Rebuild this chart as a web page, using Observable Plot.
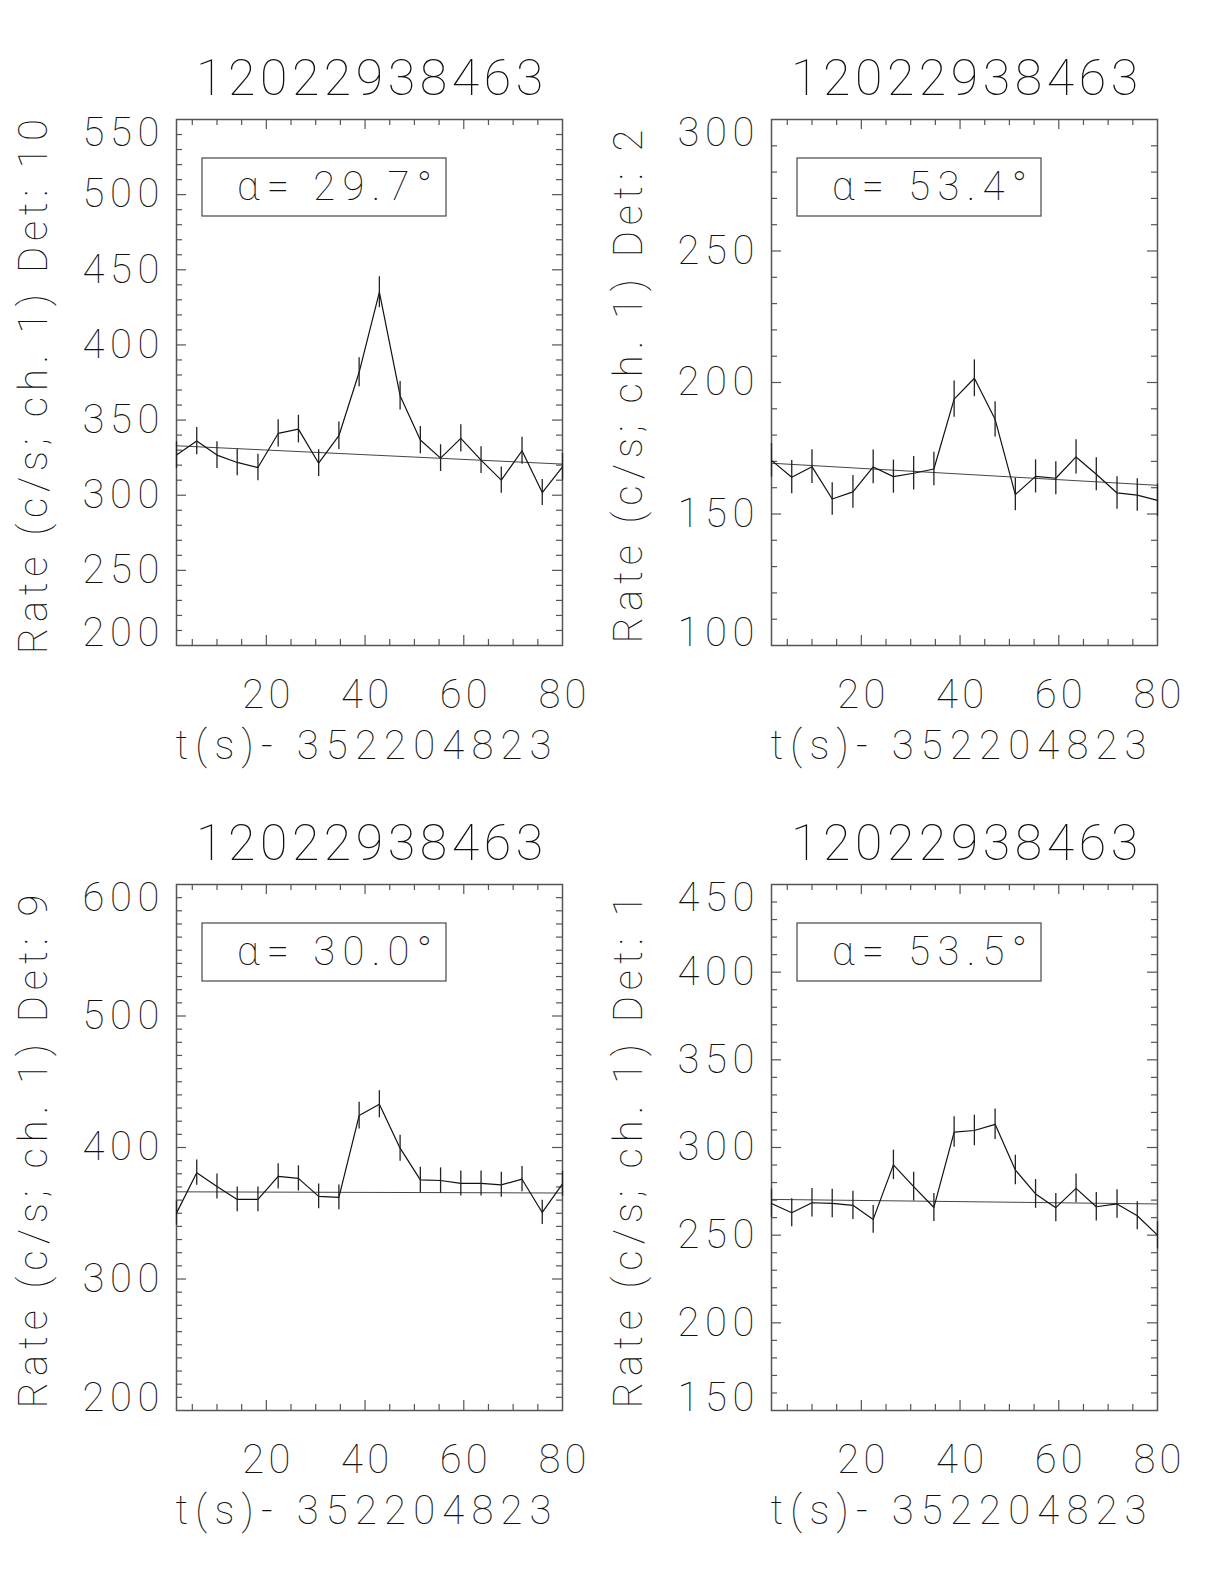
<!DOCTYPE html>
<html><head><meta charset="utf-8">
<script src="https://cdn.jsdelivr.net/npm/d3@7"></script>
<script src="https://cdn.jsdelivr.net/npm/@observablehq/plot@0.6"></script>
<style>
body{margin:0;background:#fff;}
#wrap{position:relative;width:1224px;height:1584px;background:#fff;overflow:hidden;}
.panel{position:absolute;}
</style></head><body><div id="wrap"></div>
<script>
// ---- data ----
const titleText = "12022938463";
const xLabel = "t(s)- 352204823";
const time = [1.8, 5.9, 10.0, 14.1, 18.3, 22.4, 26.5, 30.6, 34.7, 38.8, 42.9, 47.1, 51.2, 55.3, 59.4, 63.5, 67.6, 71.8, 75.9, 80.0];
const xTickLabels = [20, 40, 60, 80];

const det10Rate = [326.7, 336.0, 326.7, 321.8, 318.4, 341.1, 344.0, 321.3, 339.6, 381.8, 435.1, 366.2, 336.7, 324.7, 337.8, 323.3, 310.0, 329.6, 301.8, 318.9];
const det10Err  = [8.9, 9.1, 8.9, 8.9, 8.8, 9.1, 9.2, 8.9, 9.1, 9.6, 10.3, 9.5, 9.1, 8.9, 9.1, 8.9, 8.7, 9.0, 8.6, 8.8];
const det10Fit  = [332.9, 320.7];
const det10Ticks = [200, 250, 300, 350, 400, 450, 500, 550];

const det2Rate = [170.4, 164.0, 168.0, 155.7, 158.4, 167.9, 164.2, 165.5, 167.1, 193.7, 201.6, 186.0, 157.4, 164.3, 163.6, 171.7, 165.1, 158.0, 157.2, 155.2];
const det2Err  = [6.4, 6.3, 6.4, 6.2, 6.2, 6.4, 6.3, 6.4, 6.4, 6.9, 7.0, 6.7, 6.2, 6.3, 6.3, 6.5, 6.3, 6.2, 6.2, 6.2];
const det2Fit  = [169.3, 160.9];
const det2Ticks = [100, 150, 200, 250, 300];

const det9Rate = [350.1, 380.8, 370.4, 360.5, 360.5, 378.0, 376.5, 362.8, 362.0, 424.3, 432.9, 399.5, 375.4, 374.9, 372.7, 372.7, 371.6, 375.9, 350.6, 372.4];
const det9Err  = [9.2, 9.6, 9.5, 9.4, 9.4, 9.6, 9.6, 9.4, 9.4, 10.2, 10.3, 9.9, 9.6, 9.6, 9.5, 9.5, 9.5, 9.6, 9.2, 9.5];
const det9Fit  = [366.3, 365.4];
const det9Ticks = [200, 300, 400, 500, 600];

const det1Rate = [268.1, 262.8, 268.5, 268.1, 267.0, 259.0, 290.1, 277.7, 265.8, 308.8, 309.7, 313.2, 287.2, 273.5, 265.7, 276.7, 266.2, 267.8, 261.1, 250.0];
const det1Err  = [8.1, 8.0, 8.1, 8.1, 8.1, 7.9, 8.4, 8.2, 8.0, 8.7, 8.7, 8.7, 8.4, 8.2, 8.0, 8.2, 8.1, 8.1, 8.0, 7.8];
const det1Fit  = [270.4, 267.8];
const det1Ticks = [150, 200, 250, 300, 350, 400, 450];

const detectors = ["10", "2", "9", "1"];
const alphas = ["29.7", "53.4", "30.0", "53.5"];

// ---- layout ----
const FW = 386, FH = 526;
const panels = [
  {det: detectors[0], alpha: alphas[0], rate: det10Rate, err: det10Err, fit: det10Fit, ticks: det10Ticks, left: 0,   top: 0,   width: 595, height: 765},
  {det: detectors[1], alpha: alphas[1], rate: det2Rate,  err: det2Err,  fit: det2Fit,  ticks: det2Ticks,  left: 595, top: 0,   width: 629, height: 765},
  {det: detectors[2], alpha: alphas[2], rate: det9Rate,  err: det9Err,  fit: det9Fit,  ticks: det9Ticks,  left: 0,   top: 765, width: 595, height: 819},
  {det: detectors[3], alpha: alphas[3], rate: det1Rate,  err: det1Err,  fit: det1Fit,  ticks: det1Ticks,  left: 595, top: 765, width: 629, height: 819}
];

const FONT = "Roboto, 'Noto Sans', sans-serif";
const FW8 = 100;
const TXT = "#111";
const FS = 40;
const wrap = document.getElementById("wrap");

for (const p of panels) {
  const rows = time.map((t, i) => ({t, v: p.rate[i], e: p.err[i]}));
  const fitRows = [{t: time[0], v: p.fit[0]}, {t: time[time.length - 1], v: p.fit[1]}];
  const yMin = p.ticks[0], yMax = p.ticks[p.ticks.length - 1];
  const yMinor = d3.range(yMin + 10, yMax, 10).filter(v => !p.ticks.includes(v));
  const yMajor = p.ticks.slice(1, -1);
  const xMajor = [20, 40, 60];
  const xMinor = d3.range(5, 80, 5).filter(v => !xMajor.includes(v));
  const tickStroke = "#555";
  const mR = p.width - 176 - FW, mB = p.height - 119 - FH;
  const txt = {fontSize: FS, fontWeight: FW8, fill: TXT, lineAnchor: "middle"};
  const yLabel = `Rate (c/s; ch. 1) Det: ${p.det}`;

  const chart = Plot.plot({
    width: p.width, height: p.height,
    marginLeft: 176, marginTop: 119, marginRight: mR, marginBottom: mB,
    style: {fontFamily: FONT, background: "transparent", overflow: "visible"},
    x: {domain: [time[0], time[time.length - 1]], axis: null},
    y: {domain: [yMin, yMax], axis: null},
    marks: [
      // inward ticks on all four sides
      Plot.tickX(xMajor, {x: d => d, insetTop: FH - 10, stroke: tickStroke, strokeWidth: 1.2}),
      Plot.tickX(xMajor, {x: d => d, insetBottom: FH - 10, stroke: tickStroke, strokeWidth: 1.2}),
      Plot.tickX(xMinor, {x: d => d, insetTop: FH - 6, stroke: tickStroke, strokeWidth: 1.2}),
      Plot.tickX(xMinor, {x: d => d, insetBottom: FH - 6, stroke: tickStroke, strokeWidth: 1.2}),
      Plot.tickY(yMajor, {y: d => d, insetRight: FW - 10, stroke: tickStroke, strokeWidth: 1.2}),
      Plot.tickY(yMajor, {y: d => d, insetLeft: FW - 10, stroke: tickStroke, strokeWidth: 1.2}),
      Plot.tickY(yMinor, {y: d => d, insetRight: FW - 6, stroke: tickStroke, strokeWidth: 1.2}),
      Plot.tickY(yMinor, {y: d => d, insetLeft: FW - 6, stroke: tickStroke, strokeWidth: 1.2}),
      Plot.frame({stroke: "#555", strokeWidth: 1.5}),
      // background fit
      Plot.line(fitRows, {x: "t", y: "v", stroke: "#444", strokeWidth: 1}),
      // light curve with error bars
      Plot.line(rows, {x: "t", y: "v", stroke: "#111", strokeWidth: 1.2}),
      Plot.ruleX(rows, {x: "t", y1: d => d.v - d.e, y2: d => d.v + d.e, stroke: "#222", strokeWidth: 1.3}),
      // y tick labels
      Plot.text(yMajor, {...txt, y: d => d, text: d => String(d), frameAnchor: "left", dx: -17, textAnchor: "end"}),
      Plot.text([yMax], {...txt, y: d => d, text: d => String(d), frameAnchor: "left", dx: -17, dy: 14, textAnchor: "end"}),
      Plot.text([yMin], {...txt, y: d => d, text: d => String(d), frameAnchor: "left", dx: -17, dy: -12, textAnchor: "end"}),
      // x tick labels
      Plot.text(xTickLabels, {...txt, x: d => d, text: d => String(d), frameAnchor: "bottom", dy: 50}),
      // titles
      Plot.text([titleText], {...txt, text: d => d, frameAnchor: "top", dy: -41, fontSize: 50}),
      Plot.text([xLabel], {...txt, text: d => d, frameAnchor: "bottom", dx: -6, dy: 101}),
      Plot.text([yLabel], {...txt, text: d => d, frameAnchor: "left", textAnchor: "middle", dx: -142, dy: 4, rotate: -90}),
      // legend text
      Plot.text([`α= ${p.alpha}°`], {...txt, text: d => d, frameAnchor: "top-left", textAnchor: "middle", dx: 158, dy: 68})
    ]
  });
  chart.classList.add("panel");
  chart.style.left = p.left + "px";
  chart.style.top = p.top + "px";
  const svg = d3.select(chart);
  const fit = (pred, len) => svg.selectAll("text").filter(function(){ return pred(this.textContent); })
      .attr("textLength", len).attr("lengthAdjust", "spacing");
  fit(s => s === xLabel, 376);
  fit(s => s === titleText, 347);
  fit(s => s === yLabel, yLabel.length * 21.4);
  fit(s => s.startsWith("α"), 195);
  fit(s => /^\d{3}$/.test(s), 77);
  fit(s => /^\d{2}$/.test(s), 48);
  // legend box
  svg.append("rect").attr("x", 176 + 26).attr("y", 119 + 39).attr("width", 244).attr("height", 58)
     .attr("fill", "none").attr("stroke", "#555").attr("stroke-width", 1.3);
  wrap.appendChild(chart);
}
</script>
</body></html>
